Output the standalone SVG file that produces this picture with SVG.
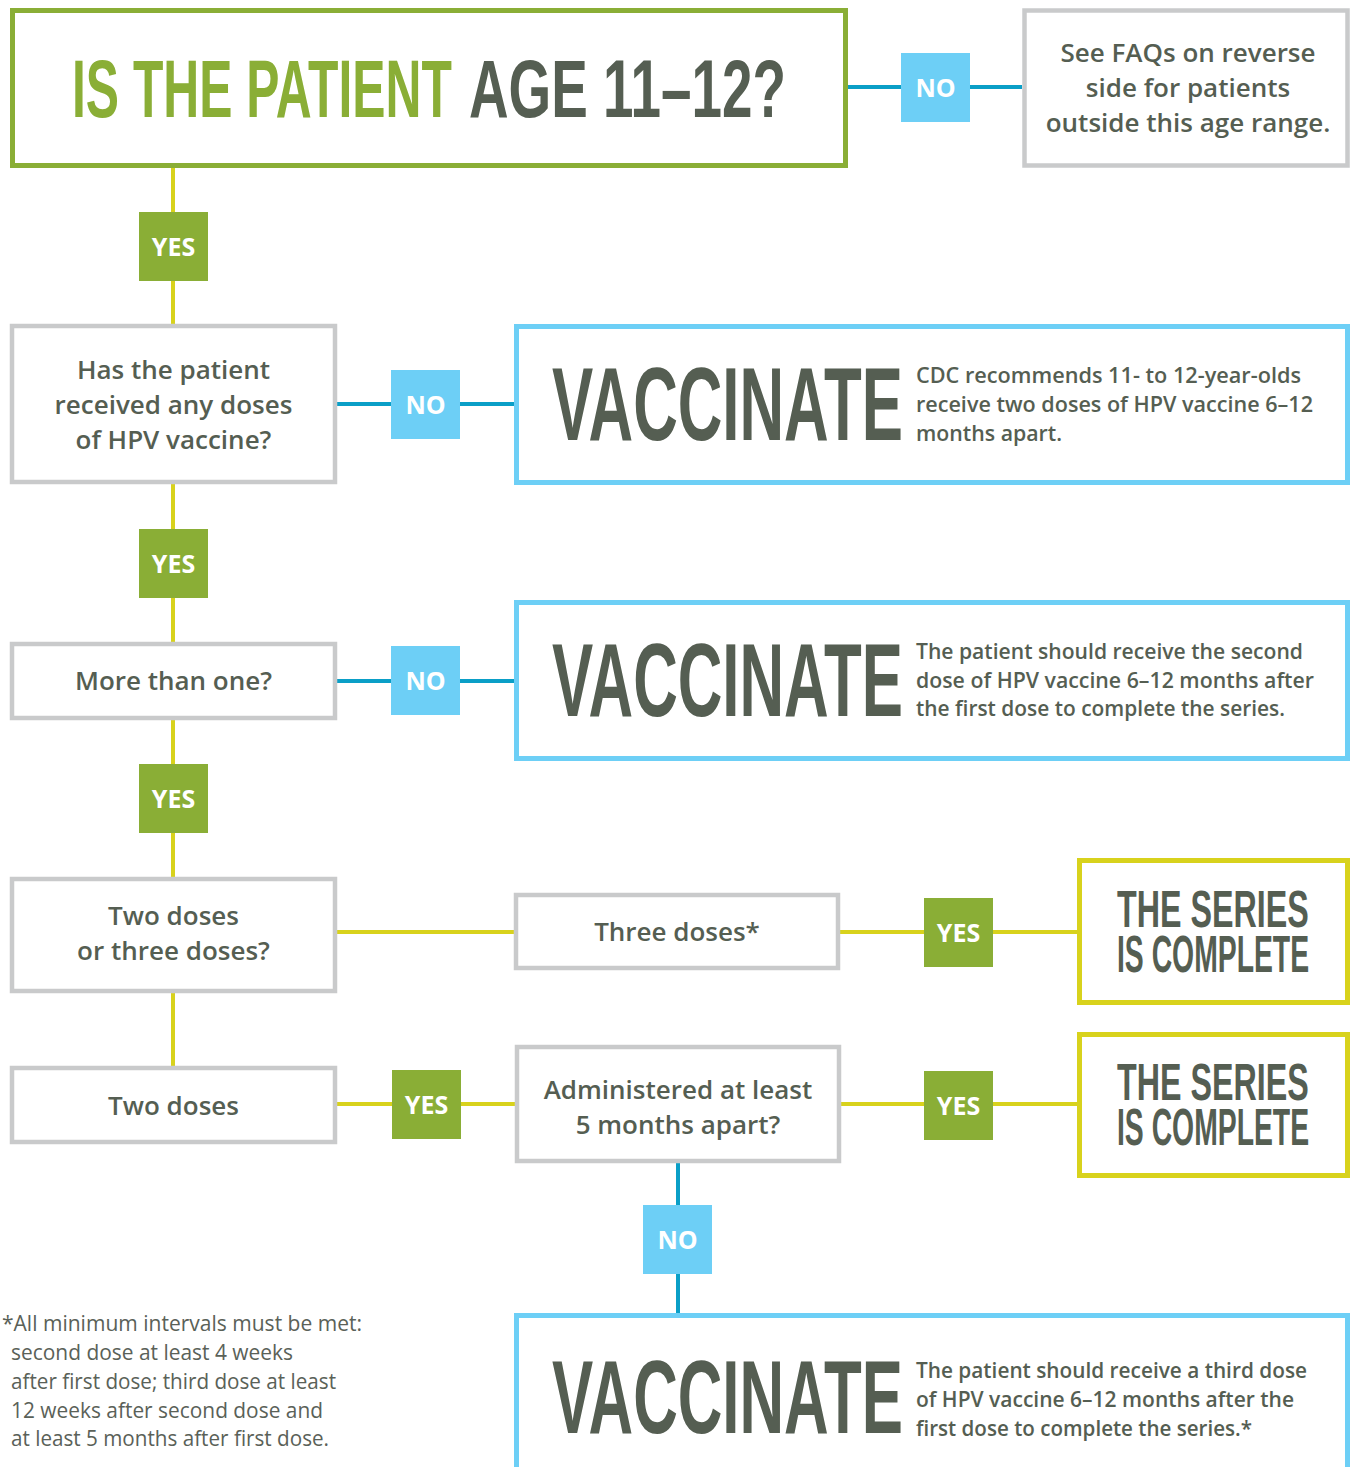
<svg xmlns="http://www.w3.org/2000/svg" width="1354" height="1467" viewBox="0 0 1354 1467">
<style>
.bg{fill:#fff}
.gbox{fill:#fff;stroke:#c9cacb;stroke-width:4.5}
.bbox{fill:#fff;stroke:#6dcff6;stroke-width:5}
.ybox{fill:#fff;stroke:#d8d21c;stroke-width:5}
.tbox{fill:#fff;stroke:#8aae36;stroke-width:5}
.cy{stroke:#d8d21c;stroke-width:4;fill:none}
.cb{stroke:#0a9fc7;stroke-width:4;fill:none}
.lyes{fill:#8aae36}
.lno{fill:#6dcff6}
.lt{font-family:"Open Sans","Liberation Sans",sans-serif;font-weight:700;font-size:25px;fill:#fff;text-anchor:middle}
.nt{font-family:"Open Sans","Liberation Sans",sans-serif;font-weight:600;font-size:26px;fill:#555e52;text-anchor:middle}
.big{font-family:"Liberation Sans","DejaVu Sans",sans-serif;font-weight:700;font-size:103px;fill:#555e52}
.side{font-family:"Open Sans","Liberation Sans",sans-serif;font-weight:600;font-size:21px;fill:#555e52}
.ser{font-family:"Liberation Sans","DejaVu Sans",sans-serif;font-weight:700;font-size:51px;fill:#555e52}
.foot{font-family:"Open Sans","Liberation Sans",sans-serif;font-weight:400;font-size:21px;fill:#5a6158}
.title{font-family:"Liberation Sans","DejaVu Sans",sans-serif;font-weight:700;font-size:81px}
</style>
<rect class="bg" x="0" y="0" width="1354" height="1467"/>
<g id="connectors">
<line class="cy" x1="173" y1="168" x2="173" y2="324"/>
<line class="cy" x1="173" y1="484" x2="173" y2="642"/>
<line class="cy" x1="173" y1="720" x2="173" y2="877"/>
<line class="cy" x1="173" y1="993" x2="173" y2="1066"/>
<line class="cy" x1="337" y1="932" x2="514" y2="932"/>
<line class="cy" x1="840" y1="932" x2="1077" y2="932"/>
<line class="cy" x1="337" y1="1104" x2="515" y2="1104"/>
<line class="cy" x1="841" y1="1104" x2="1077" y2="1104"/>
<line class="cb" x1="848" y1="87" x2="1022" y2="87"/>
<line class="cb" x1="337" y1="404" x2="514" y2="404"/>
<line class="cb" x1="337" y1="681" x2="514" y2="681"/>
<line class="cb" x1="678" y1="1163" x2="678" y2="1313"/>
<rect class="lno" x="901" y="53" width="69" height="69"/><text class="lt" x="935.5" y="96.5">NO</text>
<rect class="lyes" x="139" y="212" width="69" height="69"/><text class="lt" x="173.5" y="255.5">YES</text>
<rect class="lno" x="391" y="370" width="69" height="69"/><text class="lt" x="425.5" y="413.5">NO</text>
<rect class="lyes" x="139" y="529" width="69" height="69"/><text class="lt" x="173.5" y="572.5">YES</text>
<rect class="lno" x="391" y="646" width="69" height="69"/><text class="lt" x="425.5" y="689.5">NO</text>
<rect class="lyes" x="139" y="764" width="69" height="69"/><text class="lt" x="173.5" y="807.5">YES</text>
<rect class="lyes" x="924" y="898" width="69" height="69"/><text class="lt" x="958.5" y="941.5">YES</text>
<rect class="lyes" x="392" y="1070" width="69" height="69"/><text class="lt" x="426.5" y="1113.5">YES</text>
<rect class="lyes" x="924" y="1071" width="69" height="69"/><text class="lt" x="958.5" y="1114.5">YES</text>
<rect class="lno" x="643" y="1205" width="69" height="69"/><text class="lt" x="677.5" y="1248.5">NO</text>
</g>
<g id="q-age">
<rect class="tbox" x="12.5" y="10.5" width="833" height="155"/>
<text class="title" transform="translate(72,117) scale(0.603,1)" x="0" y="0" fill="#8aae36" textLength="630" lengthAdjust="spacingAndGlyphs">IS THE PATIENT</text>
<text class="title" transform="translate(469,117) scale(0.67,1)" x="0" y="0" fill="#555e52" textLength="473" lengthAdjust="spacingAndGlyphs">AGE 11–12?</text>
</g>
<g id="faq">
<rect class="gbox" x="1024.5" y="10.5" width="323" height="155"/>
<text class="nt" x="1188" y="62">See FAQs on reverse</text>
<text class="nt" x="1188" y="97">side for patients</text>
<text class="nt" x="1188" y="132">outside this age range.</text>
</g>
<g id="q-any">
<rect class="gbox" x="12" y="326" width="323" height="156"/>
<text class="nt" x="173.5" y="379">Has the patient</text>
<text class="nt" x="173.5" y="414">received any doses</text>
<text class="nt" x="173.5" y="449">of HPV vaccine?</text>
</g>
<g id="vax1">
<rect class="bbox" x="516.5" y="326.5" width="831" height="156"/>
<text class="big" transform="translate(552,440) scale(0.584,1)" x="0" y="0" textLength="601" lengthAdjust="spacingAndGlyphs">VACCINATE</text>
<text class="side" x="916" y="383" textLength="385" lengthAdjust="spacingAndGlyphs">CDC recommends 11- to 12-year-olds</text>
<text class="side" x="916" y="412" textLength="397" lengthAdjust="spacingAndGlyphs">receive two doses of HPV vaccine 6–12</text>
<text class="side" x="916" y="441" textLength="146" lengthAdjust="spacingAndGlyphs">months apart.</text>
</g>
<g id="q-more">
<rect class="gbox" x="12" y="644" width="323" height="74"/>
<text class="nt" x="173.5" y="690">More than one?</text>
</g>
<g id="vax2">
<rect class="bbox" x="516.5" y="602.5" width="831" height="156"/>
<text class="big" transform="translate(552,716) scale(0.584,1)" x="0" y="0" textLength="601" lengthAdjust="spacingAndGlyphs">VACCINATE</text>
<text class="side" x="916" y="659" textLength="387" lengthAdjust="spacingAndGlyphs">The patient should receive the second</text>
<text class="side" x="916" y="688" textLength="398" lengthAdjust="spacingAndGlyphs">dose of HPV vaccine 6–12 months after</text>
<text class="side" x="916" y="716" textLength="369" lengthAdjust="spacingAndGlyphs">the first dose to complete the series.</text>
</g>
<g id="q-twothree">
<rect class="gbox" x="12" y="879" width="323" height="112"/>
<text class="nt" x="173.5" y="925">Two doses</text>
<text class="nt" x="173.5" y="960">or three doses?</text>
</g>
<g id="three">
<rect class="gbox" x="516" y="895" width="322" height="73"/>
<text class="nt" x="677" y="941">Three doses*</text>
</g>
<g id="complete1">
<rect class="ybox" x="1079.5" y="860.5" width="268" height="142"/>
<text class="ser" transform="translate(1117,927) scale(0.635,1)" x="0" y="0" textLength="302" lengthAdjust="spacingAndGlyphs">THE SERIES</text>
<text class="ser" transform="translate(1117,972) scale(0.555,1)" x="0" y="0" textLength="346" lengthAdjust="spacingAndGlyphs">IS COMPLETE</text>
</g>
<g id="two">
<rect class="gbox" x="12" y="1068" width="323" height="74"/>
<text class="nt" x="173.5" y="1115">Two doses</text>
</g>
<g id="q-apart">
<rect class="gbox" x="517" y="1047" width="322" height="114"/>
<text class="nt" x="678" y="1099">Administered at least</text>
<text class="nt" x="678" y="1134">5 months apart?</text>
</g>
<g id="complete2">
<rect class="ybox" x="1079.5" y="1034.5" width="268" height="141"/>
<text class="ser" transform="translate(1117,1100) scale(0.635,1)" x="0" y="0" textLength="302" lengthAdjust="spacingAndGlyphs">THE SERIES</text>
<text class="ser" transform="translate(1117,1145) scale(0.555,1)" x="0" y="0" textLength="346" lengthAdjust="spacingAndGlyphs">IS COMPLETE</text>
</g>
<g id="vax3">
<rect class="bbox" x="516.5" y="1315.5" width="831" height="170"/>
<text class="big" transform="translate(552,1433) scale(0.584,1)" x="0" y="0" textLength="601" lengthAdjust="spacingAndGlyphs">VACCINATE</text>
<text class="side" x="916" y="1378" textLength="391" lengthAdjust="spacingAndGlyphs">The patient should receive a third dose</text>
<text class="side" x="916" y="1407" textLength="378" lengthAdjust="spacingAndGlyphs">of HPV vaccine 6–12 months after the</text>
<text class="side" x="916" y="1436" textLength="336" lengthAdjust="spacingAndGlyphs">first dose to complete the series.*</text>
</g>
<g id="footnote">
<text class="foot" x="2" y="1331" textLength="360" lengthAdjust="spacingAndGlyphs">*All minimum intervals must be met:</text>
<text class="foot" x="11" y="1360" textLength="282" lengthAdjust="spacingAndGlyphs">second dose at least 4 weeks</text>
<text class="foot" x="11" y="1389" textLength="325" lengthAdjust="spacingAndGlyphs">after first dose; third dose at least</text>
<text class="foot" x="11" y="1418" textLength="312" lengthAdjust="spacingAndGlyphs">12 weeks after second dose and</text>
<text class="foot" x="11" y="1446" textLength="318" lengthAdjust="spacingAndGlyphs">at least 5 months after first dose.</text>
</g>
</svg>
